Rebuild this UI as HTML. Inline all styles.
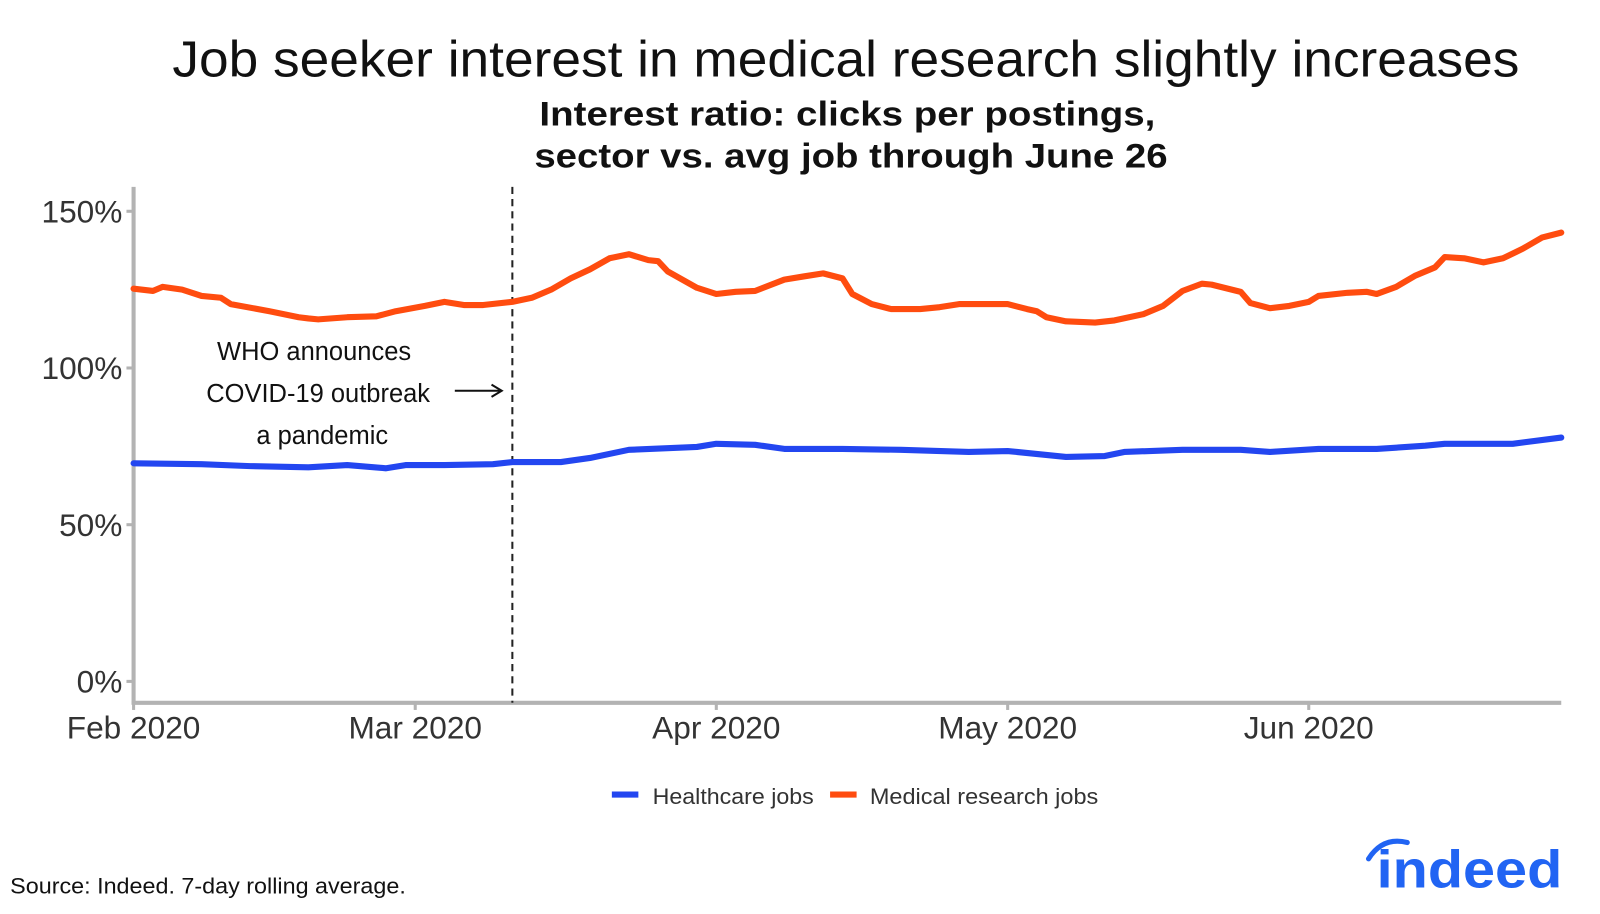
<!DOCTYPE html>
<html><head><meta charset="utf-8">
<style>
html,body{margin:0;padding:0;background:#fff;}
body{width:1600px;height:909px;overflow:hidden;font-family:"Liberation Sans",sans-serif;}
</style></head>
<body>
<svg id="chart" width="1600" height="909" viewBox="0 0 1569 891" xmlns="http://www.w3.org/2000/svg">
  <text x="169" y="75" textLength="1321" lengthAdjust="spacingAndGlyphs" font-size="50" font-family="Liberation Sans, sans-serif" fill="#111">Job seeker interest in medical research slightly increases</text>
  <text x="529" y="123" textLength="604" lengthAdjust="spacingAndGlyphs" font-size="34" font-weight="bold" font-family="Liberation Sans, sans-serif" fill="#111">Interest ratio: clicks per postings,</text>
  <text x="524" y="164" textLength="621" lengthAdjust="spacingAndGlyphs" font-size="34" font-weight="bold" font-family="Liberation Sans, sans-serif" fill="#111">sector vs. avg job through June 26</text>
  <g id="axes"></g>
  <g id="series"></g>
  <g id="annot">
    <text x="308" y="353" text-anchor="middle" font-size="25" fill="#111">WHO announces</text>
    <text x="312" y="394" text-anchor="middle" font-size="25" fill="#111">COVID-19 outbreak</text>
    <text x="316" y="435" text-anchor="middle" font-size="25" fill="#111">a pandemic</text>
    <line x1="446" y1="383" x2="490" y2="383" stroke="#111" stroke-width="2"/>
    <path d="M482 377 L492 383 L482 389" fill="none" stroke="#111" stroke-width="2"/>
  </g>
  <g>
    <line x1="600" y1="779" x2="626" y2="779" stroke="#2346f0" stroke-width="6"/>
    <text x="640" y="788" textLength="158" lengthAdjust="spacingAndGlyphs" font-size="22" fill="#333">Healthcare jobs</text>
    <line x1="814" y1="779" x2="840" y2="779" stroke="#ff4c0f" stroke-width="6"/>
    <text x="853" y="788" textLength="224" lengthAdjust="spacingAndGlyphs" font-size="22" fill="#333">Medical research jobs</text>
  </g>
  <text x="10" y="876" textLength="388" lengthAdjust="spacingAndGlyphs" font-size="22" fill="#111">Source: Indeed. 7-day rolling average.</text>
  <g>
    <path d="M1342 842 Q1356 820 1380 826" fill="none" stroke="#2164f3" stroke-width="5" stroke-linecap="round"/>
    <text x="1350" y="870" textLength="182" lengthAdjust="spacingAndGlyphs" font-size="52" font-weight="bold" fill="#2164f3">indeed</text>
  </g>
</svg>
<script>
const medDays = [0,2,3,5,7,9,10,14,17,18,19,22,25,27,30,32,34,36,39,41,43,45,47,49,51,53,54,55,58,60,62,64,67,69,71,73,74,76,78,81,83,85,87,90,92,93,94,96,99,101,104,106,108,110,111,114,115,117,119,121,122,125,127,128,130,132,134,135,137,139,141,143,145,147];
const medValues = [125.3,124.6,125.9,125.0,123.0,122.4,120.4,118.1,116.2,115.8,115.5,116.2,116.5,118.1,119.8,121.1,120.1,120.1,121.1,122.4,125.0,128.6,131.5,135.0,136.3,134.4,134.1,130.8,125.6,123.6,124.3,124.6,128.2,129.2,130.2,128.6,123.6,120.4,118.8,118.8,119.4,120.4,120.4,120.4,118.8,118.1,116.2,114.9,114.5,115.2,117.2,119.8,124.6,126.9,126.6,124.3,120.7,119.1,119.8,121.1,123.0,124.0,124.3,123.6,125.9,129.5,132.1,135.4,135.0,133.7,135.0,138.0,141.6,143.2];
const hcDays = [0,7,12,18,22,26,28,32,37,39,44,47,51,58,60,64,67,73,79,86,90,96,100,102,108,114,117,122,128,133,135,142,147];
const hcValues = [69.6,69.3,68.7,68.3,69.0,68.0,69.0,69.0,69.3,70.0,70.0,71.3,73.9,74.8,75.8,75.5,74.2,74.2,73.9,73.2,73.5,71.6,71.9,73.2,73.9,73.9,73.2,74.2,74.2,75.2,75.8,75.8,77.8];
const yTicks = [0,50,100,150];
const yTickLabels = ["0%","50%","100%","150%"];
const xTickDays = [0,29,60,90,121];
const xTickLabels = ["Feb 2020","Mar 2020","Apr 2020","May 2020","Jun 2020"];
const eventDay = 39;

const NS="http://www.w3.org/2000/svg";
const X0=131,X1=1531,DMAX=147,Y0=668,Y150=207;
const xs=d=>X0+d*(X1-X0)/DMAX;
const ys=v=>Y0-v*(Y0-Y150)/150;
function mk(tag,attrs,parent){const e=document.createElementNS(NS,tag);for(const k in attrs)e.setAttribute(k,attrs[k]);parent.appendChild(e);return e;}
const ax=document.getElementById('axes');
let l=mk('line',{x1:131,y1:183,x2:131,y2:690,stroke:'#b3b3b3','stroke-width':4},ax);


l=mk('line',{x1:129,y1:689,x2:1531,y2:689,stroke:'#b3b3b3','stroke-width':4},ax);


yTicks.forEach((v,i)=>{
  const t=mk('text',{x:120,y:ys(v)+11,'text-anchor':'end','font-size':31,fill:'#333'},ax);
  t.textContent=yTickLabels[i];
  
  
  mk('line',{x1:124,x2:131,y1:ys(v),y2:ys(v),stroke:'#b3b3b3','stroke-width':3},ax);
});
xTickDays.forEach((d,i)=>{
  const t=mk('text',{x:xs(d),y:724,'text-anchor':'middle','font-size':31,fill:'#333'},ax);
  t.textContent=xTickLabels[i];
  
  
  mk('line',{x1:xs(d),x2:xs(d),y1:689,y2:696,stroke:'#b3b3b3','stroke-width':3},ax);
});
const ev=mk('line',{x1:xs(eventDay),x2:xs(eventDay),y1:183,y2:689,stroke:'#222','stroke-width':2,'stroke-dasharray':'7,5'},ax);


const sg=document.getElementById('series');
function line(days,vals,color,name){
  const d=days.map((dd,i)=>(i?'L':'M')+xs(dd).toFixed(1)+' '+ys(vals[i]).toFixed(1)).join(' ');
  const p=mk('path',{d:d,fill:'none',stroke:color,'stroke-width':6,'stroke-linejoin':'round','stroke-linecap':'round'},sg);
  
  
}
line(hcDays,hcValues,'#2346f0','healthcare-line');
line(medDays,medValues,'#ff4c0f','medical-research-line');
</script>
</body></html>
